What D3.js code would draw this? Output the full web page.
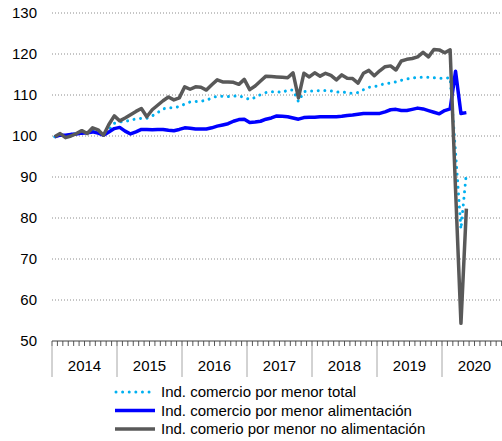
<!DOCTYPE html>
<html>
<head>
  <meta charset="utf-8">
  <title>Comercio por menor</title>
  <style>
    body {
      margin: 0;
      background-color: #ffffff;
      font-family: 'Liberation Sans', Arial, sans-serif;
    }
    text {
      fill: #000;
      font-size: 15px;
    }
  </style>
</head>
<body>
  <div id="chart"></div>

  <script src="https://cdn.jsdelivr.net/npm/d3@7"></script>
  <script>
    // Monthly series, Jan 2014 .. May 2020
    var total = [
      99.8, 100.3, 100.1, 100.3, 100.6, 100.9, 100.8, 101.3, 101.1, 100.5, 101.5, 103.1,
      103.4, 103.6, 103.8, 104.2, 104.3, 104.3, 104.9, 105.7, 106.6, 106.9, 106.9, 107.2,
      107.8, 108.3, 108.4, 108.5, 108.7, 109.3, 109.7, 109.7, 109.6, 109.7, 109.8, 109.4,
      108.9, 109.4, 110.1, 110.6, 110.8, 110.8, 110.6, 111.2, 111.2, 108.4, 110.8, 111.0,
      111.0, 111.1, 111.1, 111.0, 110.7, 110.8, 110.5, 110.4, 110.6, 111.3, 111.9, 112.0,
      112.4, 112.8, 112.9, 113.2, 113.6, 113.9, 114.1, 114.3, 114.3, 114.3, 114.2, 114.1,
      114.1, 114.2, 96.0, 77.3, 91.0
    ];
    var food = [
      99.8, 100.2, 100.2, 100.4, 100.5, 100.7, 100.8, 101.0, 100.7, 100.2, 101.0, 101.8,
      102.1, 101.2, 100.5, 101.0, 101.6, 101.6, 101.5, 101.6, 101.6, 101.4, 101.3, 101.6,
      102.0, 101.9, 101.7, 101.7, 101.7, 102.0, 102.4, 102.7, 103.0, 103.6, 104.0, 104.1,
      103.3, 103.4, 103.6, 104.1, 104.4, 104.9, 104.8, 104.7, 104.4, 104.1, 104.5, 104.6,
      104.6, 104.7, 104.7, 104.7, 104.7, 104.8, 105.0, 105.1, 105.3, 105.5, 105.5, 105.5,
      105.5, 105.9, 106.4, 106.5, 106.2, 106.2, 106.5, 106.8, 106.6, 106.2, 105.8, 105.4,
      106.2, 106.6, 115.8, 105.5, 105.7
    ];
    var nonFood = [
      99.8, 100.6, 99.6, 100.0, 100.6, 101.3, 100.6, 102.0, 101.5, 100.2, 102.8, 104.9,
      103.7, 104.4, 105.2, 106.0, 106.7, 104.7, 106.4, 107.5, 108.6, 109.5, 108.8, 109.3,
      112.0, 111.4, 112.0, 111.9, 111.2, 112.5, 113.7, 113.2, 113.2, 113.1, 112.6, 113.8,
      111.3, 112.2, 113.4, 114.6, 114.5, 114.4, 114.3, 114.2, 115.4, 109.3, 115.3, 114.4,
      115.4, 114.6, 115.3, 114.8, 113.7, 114.9, 114.1, 114.0, 112.9, 115.3, 116.0, 114.7,
      115.9, 116.9, 117.1, 116.1, 118.3, 118.7, 118.9, 119.3, 120.4, 119.3, 121.1, 121.0,
      120.3, 121.0, 87.0, 54.3, 82.3
    ];
    var years = ["2014", "2015", "2016", "2017", "2018", "2019", "2020"];
    var yTicks = [50, 60, 70, 80, 90, 100, 110, 120, 130];
    var seriesNames = [
      "Ind. comercio por menor total",
      "Ind. comercio por menor alimentación",
      "Ind. comerio por menor no alimentación"
    ];

    var width = 502,
      height = 441;

    var series = [
      { name: seriesNames[0], values: total, color: "#00b0f0", dotted: true },
      { name: seriesNames[1], values: food, color: "#0000ff", dotted: false },
      { name: seriesNames[2], values: nonFood, color: "#595959", dotted: false }
    ];

    var nMonths = years.length * 12;

    // x in month units, y in index points
    var x = d3.scaleLinear().domain([0, nMonths]).range([52, 507]);
    var y = d3.scaleLinear().domain([50, 130]).range([341, 13]);

    var svg = d3.select("#chart").append("svg")
      .attr("width", width)
      .attr("height", height);

    // dotted gridlines
    svg.append("g")
      .selectAll("line")
      .data(yTicks.filter(function(d) { return d > 50; }))
      .enter().append("line")
      .attr("x1", 52)
      .attr("x2", width)
      .attr("y1", function(d) { return y(d); })
      .attr("y2", function(d) { return y(d); })
      .attr("stroke", "#8c8c8c")
      .attr("stroke-width", 1)
      .attr("stroke-dasharray", "1,2");

    // y labels
    svg.append("g")
      .selectAll("text")
      .data(yTicks)
      .enter().append("text")
      .attr("x", 37)
      .attr("y", function(d) { return y(d); })
      .attr("dy", "0.35em")
      .attr("text-anchor", "end")
      .text(function(d) { return d; });

    // x axis: monthly minor ticks + year separators
    var xAxis = svg.append("g");

    xAxis.selectAll("line.minor")
      .data(d3.range(nMonths + 1))
      .enter().append("line")
      .attr("class", "minor")
      .attr("x1", function(d) { return x(d); })
      .attr("x2", function(d) { return x(d); })
      .attr("y1", y(50))
      .attr("y2", y(50) + 5)
      .attr("stroke", "#595959")
      .attr("stroke-width", 1);

    xAxis.selectAll("line.year")
      .data(d3.range(years.length + 1))
      .enter().append("line")
      .attr("class", "year")
      .attr("x1", function(d) { return x(d * 12); })
      .attr("x2", function(d) { return x(d * 12); })
      .attr("y1", y(50))
      .attr("y2", y(50) + 36)
      .attr("stroke", "#a6a6a6")
      .attr("stroke-width", 1);

    xAxis.append("line")
      .attr("x1", x(0))
      .attr("x2", width)
      .attr("y1", y(50))
      .attr("y2", y(50))
      .attr("stroke", "#404040")
      .attr("stroke-width", 1);

    xAxis.selectAll("text")
      .data(years)
      .enter().append("text")
      .attr("x", function(d, i) { return x(i * 12 + 6); })
      .attr("y", y(50) + 25)
      .attr("dy", "0.35em")
      .attr("text-anchor", "middle")
      .text(function(d) { return d; });

    // lines
    var line = d3.line()
      .x(function(d, i) { return x(i + 0.5); })
      .y(function(d) { return y(d); });

    svg.append("g")
      .selectAll("path")
      .data(series)
      .enter().append("path")
      .attr("d", function(d) { return line(d.values); })
      .attr("fill", "none")
      .attr("stroke", function(d) { return d.color; })
      .attr("stroke-width", function(d) { return d.dotted ? 3 : 3.5; })
      .attr("stroke-linejoin", "round")
      .attr("stroke-linecap", function(d) { return d.dotted ? "round" : "butt"; })
      .attr("stroke-dasharray", function(d) { return d.dotted ? "0.01,6.6" : null; });

    // legend
    var legend = svg.append("g")
      .selectAll("g")
      .data(series)
      .enter().append("g")
      .attr("transform", function(d, i) {
        return "translate(0," + (392 + i * 18.5) + ")";
      });

    legend.append("line")
      .attr("x1", function(d) { return d.dotted ? 116 : 115; })
      .attr("x2", 155)
      .attr("stroke", function(d) { return d.color; })
      .attr("stroke-width", function(d) { return d.dotted ? 3 : 3.5; })
      .attr("stroke-linecap", function(d) { return d.dotted ? "round" : "butt"; })
      .attr("stroke-dasharray", function(d) { return d.dotted ? "0.01,6.6" : null; });

    legend.append("text")
      .attr("x", 161)
      .attr("dy", "0.35em")
      .text(function(d) { return d.name; });
  </script>
</body>
</html>
